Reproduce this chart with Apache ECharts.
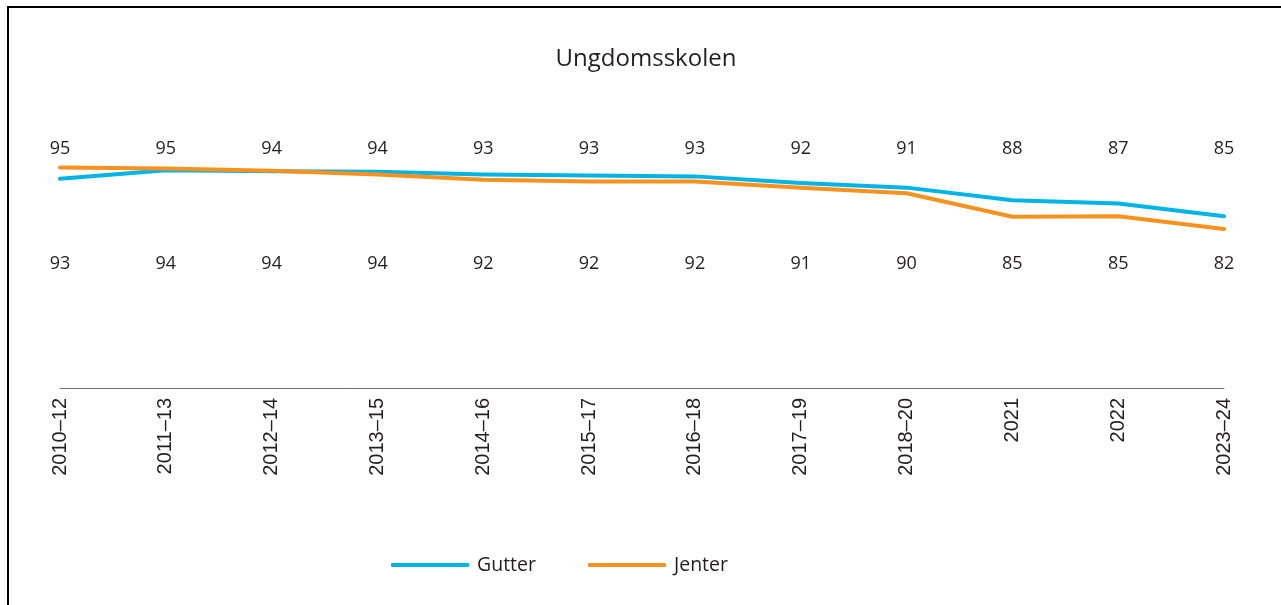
<!DOCTYPE html>
<html>
<head>
<meta charset="utf-8">
<title>Ungdomsskolen</title>
<script src="https://cdn.jsdelivr.net/npm/echarts@6/dist/echarts.min.js"></script>
<style>
  body { margin: 0; background: #fff; }
  #wrap { position: relative; width: 1281px; height: 605px; }
  #main { width: 1281px; height: 605px; }
  #frame { position: absolute; left: 7px; top: 6px; right: -10px; bottom: -10px;
           border-left: 2px solid #000; border-top: 2px solid #000; pointer-events: none; }
</style>
</head>
<body>
<div id="wrap">
  <div id="main"></div>
  <div id="frame"></div>
</div>
<script>
// kategorier (skoleår)
var categories = ['2010\u201312', '2011\u201313', '2012\u201314', '2013\u201315', '2014\u201316', '2015\u201317',
  '2016\u201318', '2017\u201319', '2018\u201320', '2021', '2022', '2023\u201324'];

// linjeverdier, lest av figuren
var gutter = [92.6, 94.4, 94.2, 94.1, 93.5, 93.3, 93.1, 91.7, 90.7, 88.0, 87.3, 84.6];
var jenter = [95.0, 94.8, 94.3, 93.5, 92.4, 92.0, 92.0, 90.7, 89.5, 84.5, 84.6, 81.9];

// tallene som står over og under linjene
var topLabels = [95, 95, 94, 94, 93, 93, 93, 92, 91, 88, 87, 85];
var bottomLabels = [93, 94, 94, 94, 92, 92, 92, 91, 90, 85, 85, 82];

var textColor = '#231f20';
var labelFont = '"Open Sans", sans-serif';

function labelRow(values, yPos) {
  // usynlig scatter som bare bærer teksten
  return {
    type: 'scatter',
    silent: true,
    symbolSize: 1,
    itemStyle: { color: 'rgba(255,255,255,0)', opacity: 1 },
    label: {
      show: true,
      position: 'inside',
      color: textColor,
      opacity: 1,
      fontFamily: labelFont,
      fontSize: 18,
      formatter: function (p) { return values[p.dataIndex]; }
    },
    data: categories.map(function (c) { return [c, yPos]; })
  };
}

var myChart = echarts.init(document.getElementById('main'));

myChart.setOption({
  animation: false,
  title: {
    text: 'Ungdomsskolen',
    left: 641,
    top: 42,
    textAlign: 'center',
    textStyle: { color: textColor, fontFamily: labelFont, fontSize: 24, fontWeight: 'normal' }
  },
  legend: {
    left: 386,
    top: 550,
    itemWidth: 78,
    itemHeight: 4,
    itemGap: 52,
    icon: 'roundRect',
    data: ['Gutter', 'Jenter'],
    textStyle: { color: textColor, fontFamily: labelFont, fontSize: 19.5, padding: [0, 0, 0, 3] }
  },
  color: ['#00b4e6', '#f7921e'],
  grid: { left: 60, right: 57, top: 144, bottom: 217 },
  xAxis: {
    type: 'category',
    data: categories,
    boundaryGap: false,
    axisLine: { lineStyle: { color: '#707070', width: 1 } },
    axisTick: { show: false },
    axisLabel: {
      rotate: 90,
      margin: 10,
      interval: 0,
      color: textColor,
      fontFamily: '"Liberation Sans", Arial, sans-serif',
      fontSize: 20
    }
  },
  yAxis: {
    type: 'value',
    min: 48,
    max: 100,
    show: false,
    splitLine: { show: false }
  },
  series: [
    {
      name: 'Gutter',
      type: 'line',
      data: gutter,
      symbol: 'none',
      lineStyle: { width: 4, cap: 'round', join: 'round' }
    },
    {
      name: 'Jenter',
      type: 'line',
      data: jenter,
      symbol: 'none',
      lineStyle: { width: 4, cap: 'round', join: 'round' }
    },
    labelRow(topLabels, 99.0),
    labelRow(bottomLabels, 74.5)
  ]
});
</script>
</body>
</html>
